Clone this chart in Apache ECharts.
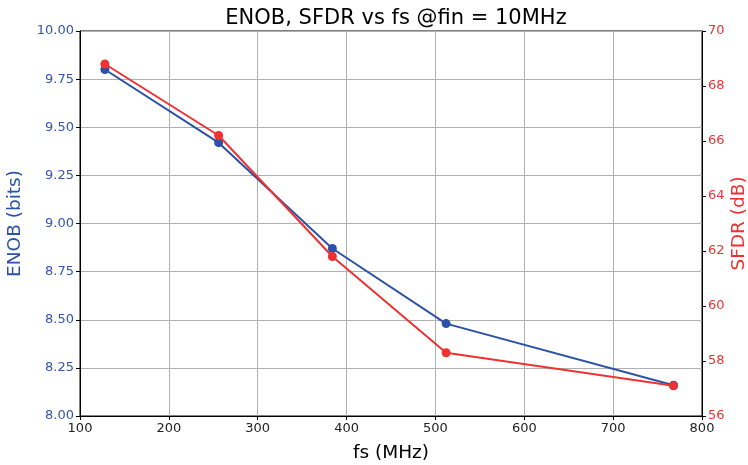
<!DOCTYPE html>
<html>
<head>
<meta charset="utf-8">
<script src="https://cdn.jsdelivr.net/npm/echarts@6/dist/echarts.min.js"></script>
<style>
  html, body { margin: 0; padding: 0; background: #fff; }
  #chart { width: 748px; height: 465px; }
</style>
</head>
<body>
<div id="chart"></div>
<script>
// sample rates (MHz)
let fsValues = [128, 256, 384, 512, 768];
// ENOB (bits), left axis
let enobValues = [9.80, 9.42, 8.87, 8.48, 8.16];
// SFDR (dB), right axis
let sfdrValues = [68.8, 66.2, 61.8, 58.3, 57.1];

let blue = '#2b52a6';
let red = '#ee3232';
let font = 'DejaVu Sans';

function pairs(xs, ys) {
    return xs.map(function (x, i) { return [x, ys[i]]; });
}

let option = {
    animation: false,
    backgroundColor: '#fff',
    textStyle: { fontFamily: font },
    title: {
        text: 'ENOB, SFDR vs fs @fin = 10MHz',
        left: 391,
        textAlign: 'center',
        top: 3,
        textStyle: { fontFamily: font, fontSize: 21, fontWeight: 'normal', color: '#000' }
    },
    grid: {
        left: 80, right: 46, top: 31, bottom: 49,
        outerBoundsMode: 'none',
        containLabel: false,
        show: true, borderColor: '#000', borderWidth: 1, backgroundColor: 'transparent'
    },
    xAxis: {
        type: 'value',
        min: 100, max: 800, interval: 100,
        name: 'fs (MHz)',
        nameLocation: 'middle',
        nameGap: 28,
        nameMoveOverlap: false,
        nameTextStyle: { fontFamily: font, fontSize: 18.5, color: '#000' },
        axisLine: { show: true, lineStyle: { color: '#000', width: 1 } },
        axisTick: { show: true, length: 4, lineStyle: { color: '#000' } },
        axisLabel: { fontFamily: font, fontSize: 13, color: '#222', margin: 6 },
        splitLine: { show: true, lineStyle: { color: '#b0b0b0', width: 1 } }
    },
    yAxis: [
        {
            type: 'value',
            min: 8, max: 10, interval: 0.25,
            name: 'ENOB (bits)',
            nameLocation: 'middle',
            nameGap: 55,
            nameMoveOverlap: false,
            nameTextStyle: { fontFamily: font, fontSize: 18.5, color: blue },
            axisLine: { show: true, lineStyle: { color: '#000', width: 1 } },
            axisTick: { show: true, length: 4, lineStyle: { color: '#000' } },
            axisLabel: {
                fontFamily: font, fontSize: 13, color: '#3355aa', margin: 6,
                formatter: function (v) { return v.toFixed(2); }
            },
            splitLine: { show: true, lineStyle: { color: '#b0b0b0', width: 1 } }
        },
        {
            type: 'value',
            min: 56, max: 70, interval: 2,
            position: 'right',
            name: 'SFDR (dB)',
            nameLocation: 'middle',
            nameGap: 28,
            nameRotate: 90,
            nameMoveOverlap: false,
            nameTextStyle: { fontFamily: font, fontSize: 18.5, color: red },
            axisLine: { show: true, lineStyle: { color: '#000', width: 1 } },
            axisTick: { show: true, length: 4, lineStyle: { color: '#000' } },
            axisLabel: { fontFamily: font, fontSize: 13, color: red, margin: 6 },
            splitLine: { show: false }
        }
    ],
    series: [
        {
            name: 'ENOB',
            type: 'line',
            yAxisIndex: 0,
            data: pairs(fsValues, enobValues),
            symbol: 'circle',
            symbolSize: 9,
            lineStyle: { color: blue, width: 2 },
            itemStyle: { color: blue },
            z: 3
        },
        {
            name: 'SFDR',
            type: 'line',
            yAxisIndex: 1,
            data: pairs(fsValues, sfdrValues),
            symbol: 'circle',
            symbolSize: 9,
            lineStyle: { color: red, width: 2 },
            itemStyle: { color: red },
            z: 4
        }
    ]
};

let chart = echarts.init(document.getElementById('chart'));
chart.setOption(option);
</script>
</body>
</html>
